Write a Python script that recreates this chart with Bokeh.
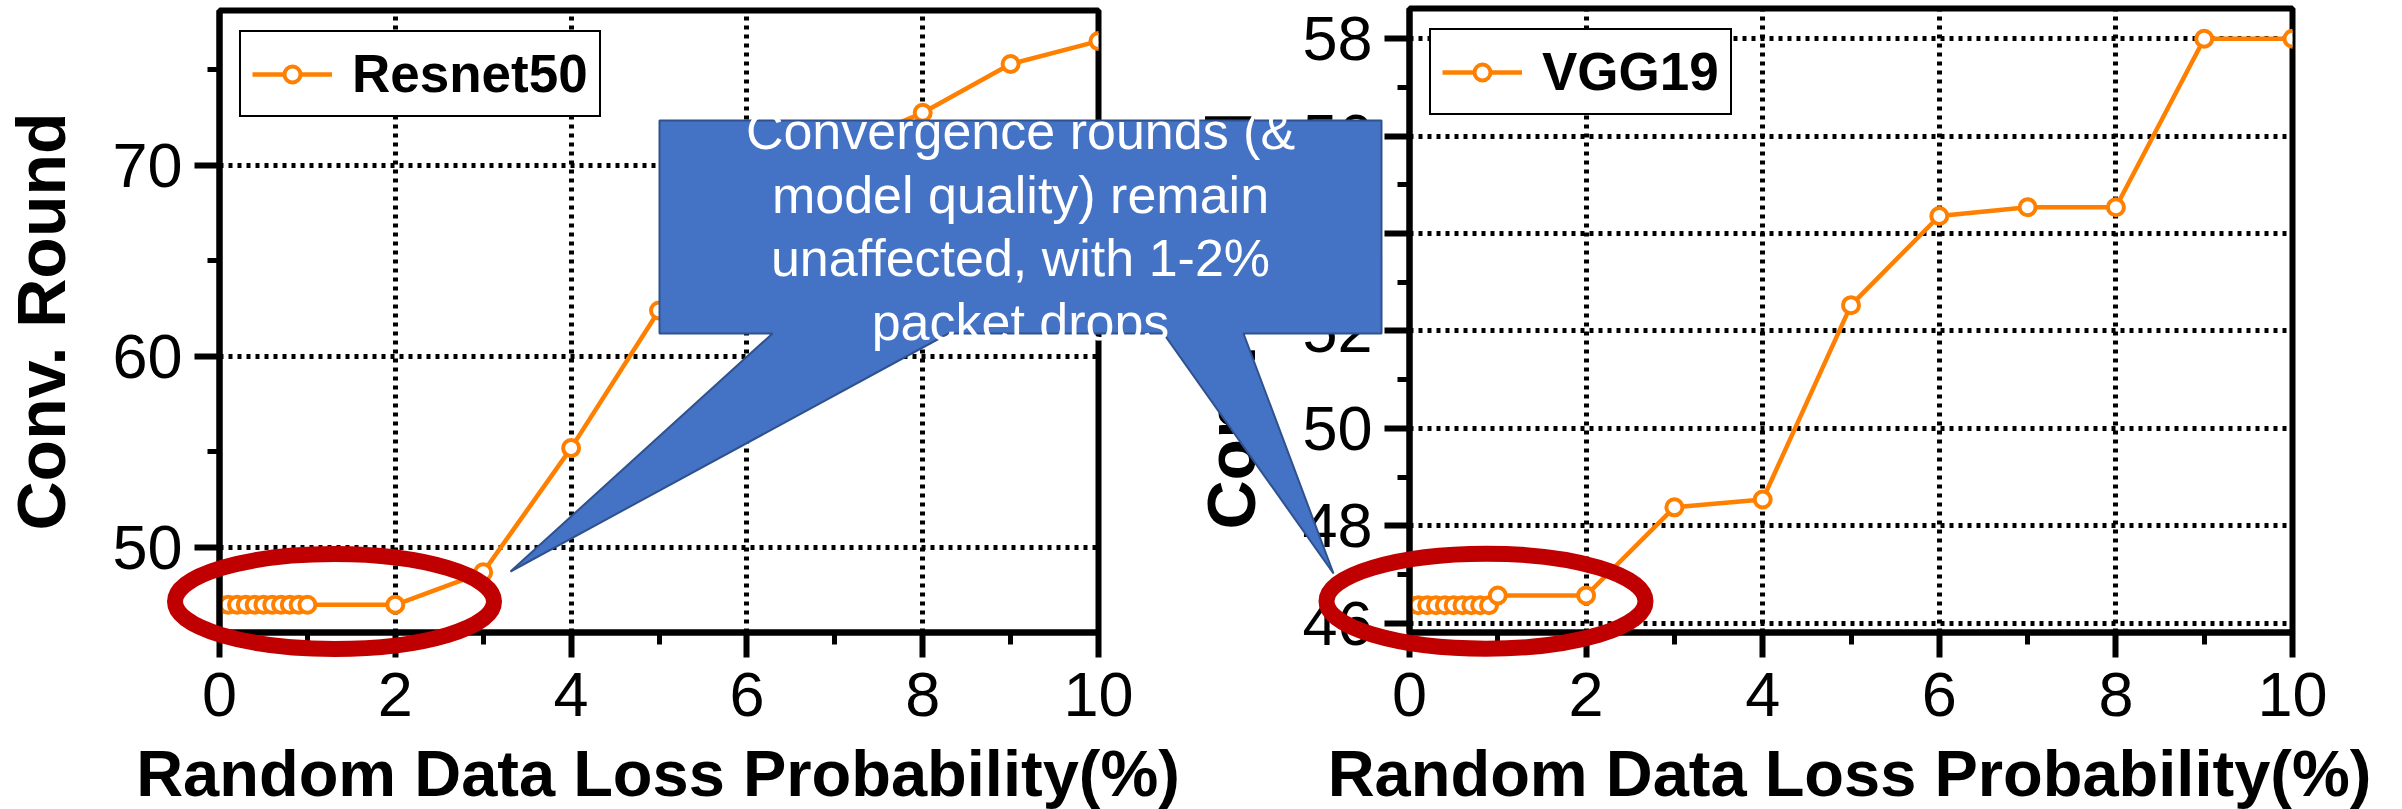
from bokeh.plotting import figure
from bokeh.models import (Range1d, SingleIntervalTicker, Legend, LegendItem, GridBox)
from bokeh.core.properties import value
from bokeh.embed import file_html
from bokeh.resources import INLINE

# ---------------- data ----------------
loss_pct = [0, 0.1, 0.2, 0.3, 0.4, 0.5, 0.6, 0.7, 0.8, 0.9, 1.0,
            2, 3, 4, 5, 6, 7, 8, 9, 10]
resnet50_rounds = [47, 47, 47, 47, 47, 47, 47, 47, 47, 47, 47,
                   47, 48.7, 55.2, 62.4, 67.0, 70.8, 72.75, 75.3, 76.5]
vgg19_rounds = [46.37, 46.37, 46.37, 46.37, 46.37, 46.37, 46.37, 46.37, 46.37, 46.37, 46.57,
                46.57, 48.38, 48.54, 52.53, 54.36, 54.54, 54.54, 58.0, 58.0]
series_names = ["Resnet50", "VGG19"]
y_label = "Conv. Round"
x_label = "Random Data Loss Probability(%)"
callout_lines = ["Convergence rounds (&", "model quality) remain",
                 "unaffected, with 1-2%", "packet drops"]

# ---------------- layout / style ----------------
PAGE_W, PAGE_H = 2402, 809
SPLIT = 1190
ORANGE = "#FF8000"
FONT = "Liberation Sans"
LEFT_FRAME = (217, 1098, 10, 632)
RIGHT_FRAME = (1406, 2292, 8, 632)

# overlay geometry (page pixels)
CALLOUT_X = [659, 1381, 1381, 1243, 1333, 1163, 948, 510, 772, 659]
CALLOUT_Y = [120, 120, 333, 333, 573, 333, 333, 571, 333, 333]
CALLOUT_TEXT_X = 1020
CALLOUT_FS = 52
CALLOUT_Y_ANCHORS = [130, 194, 257, 321]
ELLIPSE_X = [334, 1485.5]
ELLIPSE_Y = [601, 600.7]
ELLIPSE_W = 319
ELLIPSE_H = 95
XLABEL_FS = 65
XLABEL_Y_ANCHOR = 773


def no_align(p):
    if "frame_align" in p.properties():
        p.frame_align = False


def build(name, ys, y_lo, y_hi, y_step, x0, w, frame):
    fl, fr, ft, fb = frame
    p = figure(width=w, height=PAGE_H, x_range=Range1d(0, 10),
               y_range=Range1d(y_lo, y_hi), output_backend="svg",
               toolbar_location=None,
               min_border_left=fl - x0, min_border_right=x0 + w - fr,
               min_border_top=ft, min_border_bottom=PAGE_H - fb)
    no_align(p)
    p.background_fill_color = "white"
    p.border_fill_color = "white"
    p.outline_line_color = "black"
    p.outline_line_width = 6
    p.outline_line_alpha = 1

    xt = SingleIntervalTicker(interval=2, num_minor_ticks=2)
    yt = SingleIntervalTicker(interval=y_step, num_minor_ticks=2)
    p.xaxis.ticker = xt
    p.yaxis.ticker = yt
    p.xgrid.ticker = xt
    p.ygrid.ticker = yt
    for g in (p.xgrid, p.ygrid):
        g.grid_line_color = "black"
        g.grid_line_width = 5
        g.grid_line_dash = "4 5"
        g.grid_line_alpha = 1

    for ax in (p.xaxis, p.yaxis):
        ax.axis_line_width = 6
        ax.axis_line_color = "black"
        ax.major_tick_line_width = 6
        ax.minor_tick_line_width = 5
        ax.major_tick_in = 0
        ax.major_tick_out = 25
        ax.minor_tick_in = 0
        ax.minor_tick_out = 12
        ax.major_label_text_font = FONT
        ax.major_label_text_font_size = "63px"
        ax.major_label_text_color = "black"
        ax.axis_label_text_font = FONT
        ax.axis_label_text_font_size = "68px"
        ax.axis_label_text_font_style = "bold"
        ax.axis_label_text_color = "black"
    p.yaxis.axis_label = y_label
    p.xaxis.major_label_standoff = 15
    p.yaxis.major_label_standoff = 12
    p.yaxis.axis_label_standoff = 30

    r_line = p.line(loss_pct, ys, line_color=ORANGE, line_width=4.5)
    r_pts = p.scatter(loss_pct, ys, marker="circle", size=16, fill_color="white",
                      line_color=ORANGE, line_width=4)

    legend = Legend(items=[LegendItem(label=name, renderers=[r_line, r_pts])],
                    location="top_left", margin=20, padding=11, spacing=0,
                    glyph_width=80, glyph_height=40, label_standoff=20,
                    label_text_font=FONT, label_text_font_style="bold",
                    label_text_font_size="53px", label_text_color="black",
                    border_line_color="black", border_line_width=2,
                    border_line_alpha=1,
                    background_fill_color="white", background_fill_alpha=1)
    p.add_layout(legend)
    return p


p_left = build(series_names[0], resnet50_rounds, 45.55, 78.1, 10,
               0, SPLIT, LEFT_FRAME)
p_right = build(series_names[1], vgg19_rounds, 45.81, 58.62, 2,
                SPLIT, PAGE_W - SPLIT, RIGHT_FRAME)

# transparent overlay (page-pixel coordinates) for the annotations
ov = figure(width=PAGE_W, height=PAGE_H, x_range=Range1d(0, PAGE_W),
            y_range=Range1d(PAGE_H, 0), x_axis_type=None, y_axis_type=None,
            toolbar_location=None, output_backend="svg", min_border=0,
            min_border_left=0, min_border_right=0, min_border_top=0,
            min_border_bottom=0)
no_align(ov)
ov.outline_line_color = None
ov.background_fill_alpha = 0
ov.border_fill_alpha = 0

ov.ellipse(x=ELLIPSE_X, y=ELLIPSE_Y, width=ELLIPSE_W, height=ELLIPSE_H,
           fill_alpha=0, line_color="#C00000", line_width=16)
ov.patch(CALLOUT_X, CALLOUT_Y, fill_color="#4472C4", line_color="#2F528F",
         line_width=2)
ov.text(x=[CALLOUT_TEXT_X] * len(callout_lines), y=CALLOUT_Y_ANCHORS,
        text=callout_lines, text_font=value(FONT),
        text_font_size="%dpx" % CALLOUT_FS,
        text_color="white", text_align="center", text_baseline="alphabetic")
ov.text(x=[(LEFT_FRAME[0] + LEFT_FRAME[1]) / 2, (RIGHT_FRAME[0] + RIGHT_FRAME[1]) / 2],
        y=[XLABEL_Y_ANCHOR, XLABEL_Y_ANCHOR], text=[x_label, x_label],
        text_font=value(FONT), text_font_size="%dpx" % XLABEL_FS,
        text_font_style="bold",
        text_color="black", text_align="center", text_baseline="alphabetic")

layout = GridBox(children=[(p_left, 0, 0), (p_right, 0, 1), (ov, 0, 0, 1, 2)],
                 cols=["%dpx" % SPLIT, "%dpx" % (PAGE_W - SPLIT)],
                 rows=["%dpx" % PAGE_H], spacing=0)
open("out.html", "w").write(file_html(layout, INLINE))
